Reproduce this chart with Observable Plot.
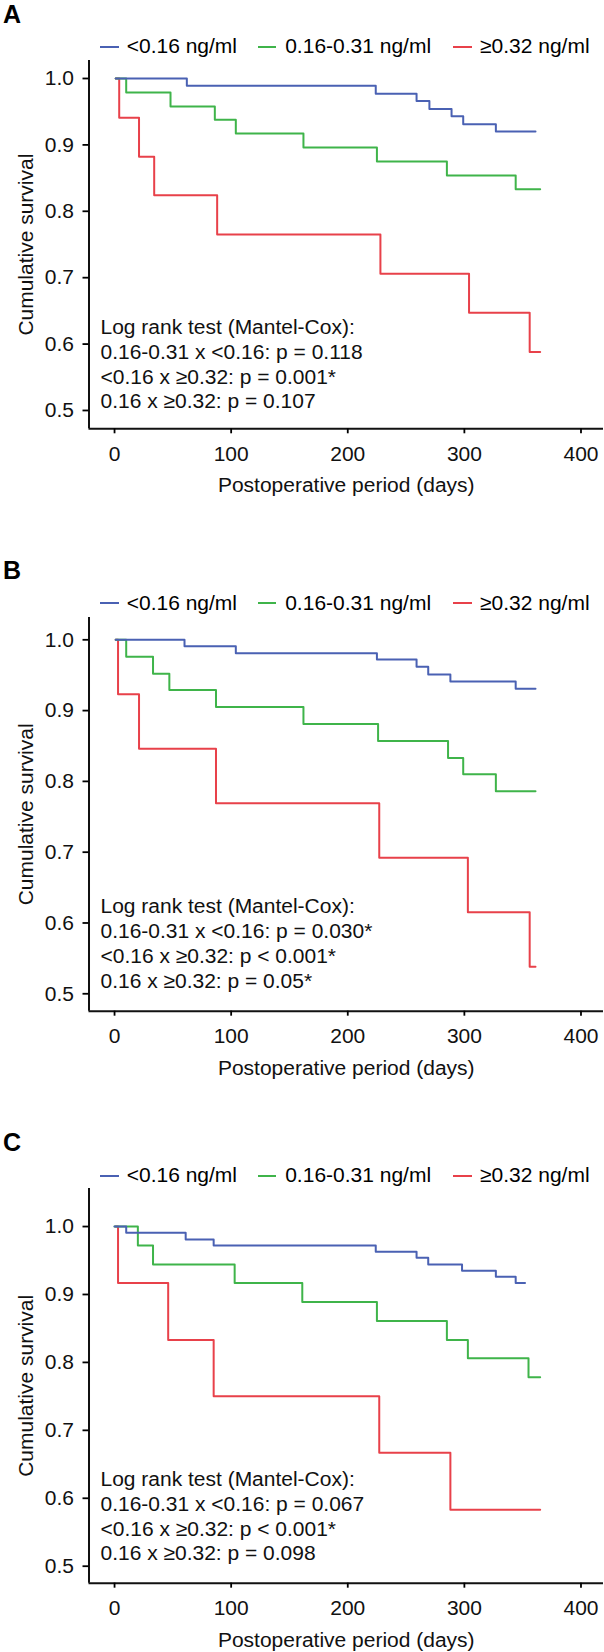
<!DOCTYPE html>
<html><head><meta charset="utf-8">
<script src="https://cdn.jsdelivr.net/npm/d3@7"></script>
<script src="https://cdn.jsdelivr.net/npm/@observablehq/plot@0.6"></script>
<style>
body{margin:0;background:#fff;}
#root{position:relative;width:604px;height:1652px;overflow:hidden;font-family:"Liberation Sans",Arial,sans-serif;color:#000;}
.lbl{position:absolute;left:3px;font-weight:bold;font-size:25px;line-height:25px;}
.leg-line{position:absolute;height:2px;width:18.5px;}
.leg-text{position:absolute;font-size:21px;line-height:21px;white-space:nowrap;}
</style></head><body><div id="root"></div>
<script>
// ---- data ----
const groups = ["<0.16 ng/ml", "0.16-0.31 ng/ml", "≥0.32 ng/ml"];
const xTicks = [0, 100, 200, 300, 400];
const yTicks = [0.5, 0.6, 0.7, 0.8, 0.9, 1.0];
const xLabel = "Postoperative period (days)";
const yLabel = "Cumulative survival";

// Panel A
const daysA_low  = [1, 62, 224, 259, 270, 289, 299, 327, 361];
const survA_low  = [1, 0.989, 0.977, 0.966, 0.954, 0.943, 0.931, 0.920, 0.920];
const daysA_mid  = [1, 10, 48, 86, 104, 162, 225, 285, 344, 365];
const survA_mid  = [1, 0.979, 0.958, 0.938, 0.917, 0.896, 0.875, 0.854, 0.833, 0.833];
const daysA_high = [1, 4, 21, 34, 88, 228, 304, 356, 365];
const survA_high = [1, 0.941, 0.882, 0.824, 0.765, 0.706, 0.647, 0.588, 0.588];
const statsA = ["Log rank test (Mantel-Cox):", "0.16-0.31 x <0.16: p = 0.118", "<0.16 x ≥0.32: p = 0.001*", "0.16 x ≥0.32: p = 0.107"];

// Panel B
const daysB_low  = [1, 60, 104, 225, 259, 269, 288, 344, 361];
const survB_low  = [1, 0.991, 0.981, 0.972, 0.962, 0.951, 0.941, 0.931, 0.931];
const daysB_mid  = [1, 10, 33, 47, 87, 162, 226, 286, 299, 327, 361];
const survB_mid  = [1, 0.976, 0.952, 0.929, 0.905, 0.881, 0.857, 0.833, 0.810, 0.786, 0.786];
const daysB_high = [1, 3, 21, 87, 227, 303, 356, 361];
const survB_high = [1, 0.923, 0.846, 0.769, 0.692, 0.615, 0.538, 0.538];
const statsB = ["Log rank test (Mantel-Cox):", "0.16-0.31 x <0.16: p = 0.030*", "<0.16 x ≥0.32: p < 0.001*", "0.16 x ≥0.32: p = 0.05*"];

// Panel C
const daysC_low  = [0, 10, 61, 85, 224, 259, 269, 298, 327, 344, 352];
const survC_low  = [1, 0.991, 0.981, 0.972, 0.963, 0.954, 0.944, 0.935, 0.926, 0.917, 0.917];
const daysC_mid  = [0, 20, 33, 103, 161, 225, 285, 303, 355, 365];
const survC_mid  = [1, 0.972, 0.944, 0.917, 0.889, 0.861, 0.833, 0.806, 0.778, 0.778];
const daysC_high = [1, 3, 46, 85, 227, 288, 365];
const survC_high = [1, 0.917, 0.833, 0.750, 0.667, 0.583, 0.583];
const statsC = ["Log rank test (Mantel-Cox):", "0.16-0.31 x <0.16: p = 0.067", "<0.16 x ≥0.32: p < 0.001*", "0.16 x ≥0.32: p = 0.098"];

// ---- styles / layout ----
const colors = ["#4a61b3", "#3fb44a", "#e8414a"];
const FONT = '"Liberation Sans", Arial, sans-serif';
const xDomain = [-21.9, 419.3];
const legendLineX = [100, 257.5, 453];
const legendTextX = [126.7, 285.2, 480];

const panels = [
  {key: "A", frameTop: 60, frameBottom: 428.3, yDomain: [0.4724, 1.0271], labelBase: 22.7, legendY: 46.7, statsDy: -20.3,
   series: [[daysA_low, survA_low], [daysA_mid, survA_mid], [daysA_high, survA_high]], stats: statsA},
  {key: "B", frameTop: 617, frameBottom: 1010.7, yDomain: [0.4754, 1.0315], labelBase: 579, legendY: 603.3, statsDy: -23,
   series: [[daysB_low, survB_low], [daysB_mid, survB_mid], [daysB_high, survB_high]], stats: statsB},
  {key: "C", frameTop: 1188, frameBottom: 1582.7, yDomain: [0.475, 1.056], labelBase: 1151, legendY: 1175.5, statsDy: -22.7,
   series: [[daysC_low, survC_low], [daysC_mid, survC_mid], [daysC_high, survC_high]], stats: statsC}
];

const root = document.getElementById("root");
const MT = 10, MB = 72;

for (const p of panels) {
  // panel letter
  const lbl = document.createElement("div");
  lbl.className = "lbl";
  lbl.style.top = (p.labelBase - 21.2) + "px";
  lbl.textContent = p.key;
  root.appendChild(lbl);

  // legend
  groups.forEach((g, i) => {
    const ln = document.createElement("div");
    ln.className = "leg-line";
    ln.style.left = legendLineX[i] + "px";
    ln.style.top = (p.legendY - 1) + "px";
    ln.style.background = colors[i];
    root.appendChild(ln);
    const tx = document.createElement("div");
    tx.className = "leg-text";
    tx.style.left = legendTextX[i] + "px";
    tx.style.top = (p.legendY + 6.3 - 17.8) + "px";
    tx.textContent = g;
    root.appendChild(tx);
  });

  // data rows (draw high, mid, low so blue sits on top)
  const rows = [];
  [2, 1, 0].forEach(i => {
    const [d, s] = p.series[i];
    d.forEach((day, j) => rows.push({group: groups[i], day, surv: s[j]}));
  });

  const H = (p.frameBottom - p.frameTop) + MT + MB;
  const svg = Plot.plot({
    width: 604, height: H,
    marginTop: MT, marginBottom: MB, marginLeft: 88.5, marginRight: 1,
    style: {fontFamily: FONT, fontSize: "21px", color: "#000", background: "none", overflow: "visible"},
    x: {domain: xDomain},
    y: {domain: p.yDomain},
    color: {domain: groups, range: colors},
    marks: [
      Plot.line(rows, {x: "day", y: "surv", z: "group", stroke: "group", curve: "step-after", strokeWidth: 2}),
      Plot.ruleX([xDomain[0]], {stroke: "#111", strokeWidth: 2}),
      Plot.ruleY([p.yDomain[0]], {stroke: "#111", strokeWidth: 2}),
      Plot.axisX({ticks: xTicks, tickSize: 5, tickPadding: 12, label: null, strokeWidth: 1.8, fill: "#111"}),
      Plot.axisY({ticks: yTicks, tickSize: 6, tickPadding: 9, tickFormat: d3.format(".1f"), label: null, strokeWidth: 1.8, fill: "#111"}),
      Plot.text([yLabel], {frameAnchor: "left", dx: -56.5, rotate: -90, lineAnchor: "bottom", textAnchor: "middle", fill: "#111"}),
      Plot.text([xLabel], {frameAnchor: "bottom", dy: 63.7, lineAnchor: "bottom", textAnchor: "middle", fill: "#111"}),
      Plot.text([p.stats.join("\n")], {frameAnchor: "bottom-left", dx: 11.5, dy: p.statsDy, lineAnchor: "bottom", textAnchor: "start", lineHeight: 25 / 21, fill: "#111"})
    ]
  });
  svg.style.position = "absolute";
  svg.style.left = "0px";
  svg.style.top = (p.frameTop - MT) + "px";
  svg.style.maxWidth = "none";
  root.appendChild(svg);
}
</script></body></html>
